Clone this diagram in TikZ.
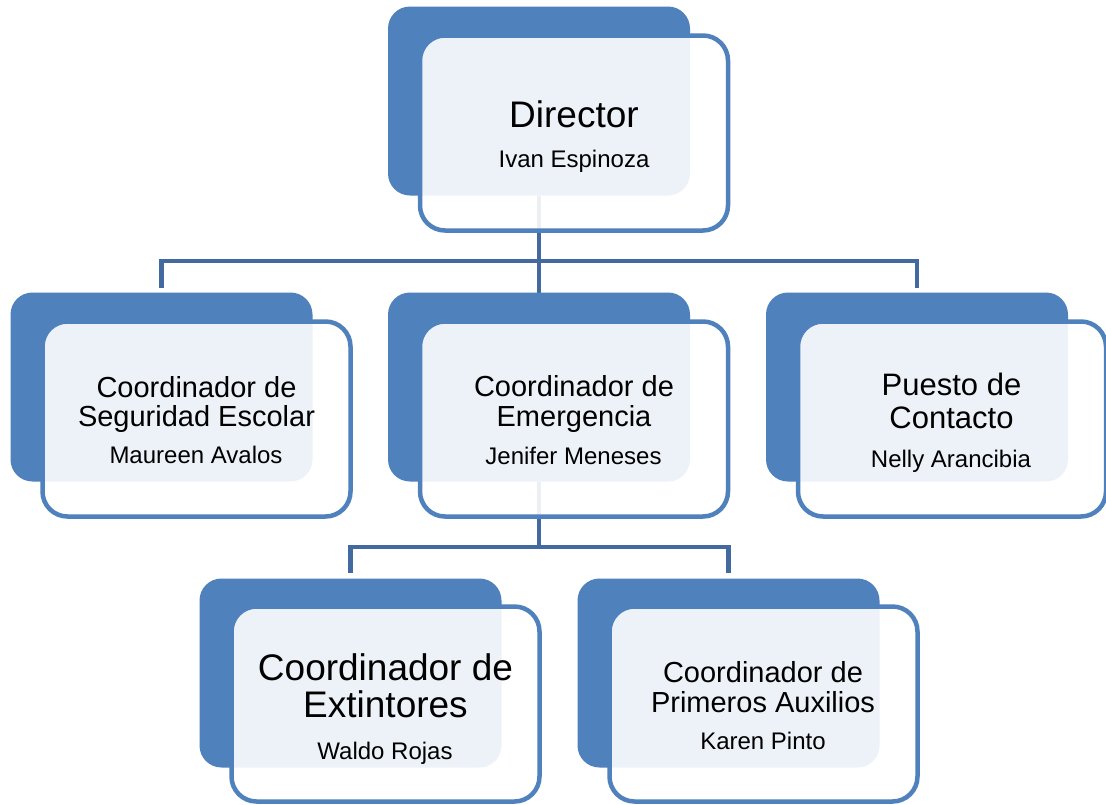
\documentclass[tikz,border=0pt]{standalone}
\usepackage{fontspec}
\setmainfont{Liberation Sans}
\definecolor{boxblue}{RGB}{79,129,189}
\definecolor{connblue}{RGB}{66,106,160}
\begin{document}
\begin{tikzpicture}[x=1pt,y=-1pt,
  backbox/.style={fill=boxblue, draw=none, rounded corners=22pt, minimum width=302pt, minimum height=189pt, inner sep=0pt, outer sep=0pt},
  frontbox/.style={fill=white, fill opacity=0.9, draw=boxblue, draw opacity=1, line width=4.5pt, rounded corners=25pt, minimum width=308pt, minimum height=195pt, inner sep=0pt, outer sep=0pt},
  conn/.style={draw=connblue, line width=4.5pt},
  txt/.style={anchor=base, inner sep=0pt, outer sep=0pt, text=black},
  big/.style={font=\fontsize{37}{40}\selectfont},
  mid/.style={font=\fontsize{29}{32}\selectfont},
  midp/.style={font=\fontsize{31}{34}\selectfont},
  small/.style={font=\fontsize{24}{27}\selectfont}]
\useasboundingbox[fill=white] (0,0) rectangle (1106,804);
\coordinate (bar1) at (0,261);
\coordinate (bar2) at (0,547);
% placeholders for back box positions
\path (539,101) node[backbox, fill=none] (dirB) {}
      (161.5,387) node[backbox, fill=none] (segB) {}
      (539,387) node[backbox, fill=none] (emeB) {}
      (917,387) node[backbox, fill=none] (conB) {}
      (350.5,673) node[backbox, fill=none] (extB) {}
      (728.5,673) node[backbox, fill=none] (priB) {};
% connectors (drawn first, behind boxes)
\draw[conn] (dirB.south) -- (emeB.north);
\draw[conn] ([yshift=5pt]segB.north) |- (bar1 -| conB.north) -- ([yshift=5pt]conB.north);
\draw[conn] (emeB.south) -- (emeB.south |- bar2);
\draw[conn] ([yshift=6pt]extB.north) |- (bar2 -| priB.north) -- ([yshift=6pt]priB.north);
% back boxes
\foreach \n in {dirB,segB,emeB,conB,extB,priB}{
  \node[backbox] at (\n.center) {};
}
% front boxes
\node[frontbox] (dirF) at ([xshift=35pt,yshift=-32pt]dirB.center) {};
\node[frontbox] (segF) at ([xshift=35pt,yshift=-32pt]segB.center) {};
\node[frontbox] (emeF) at ([xshift=35pt,yshift=-32pt]emeB.center) {};
\node[frontbox] (conF) at ([xshift=35pt,yshift=-32pt]conB.center) {};
\node[frontbox] (extF) at ([xshift=35pt,yshift=-31pt]extB.center) {};
\node[frontbox] (priF) at ([xshift=35pt,yshift=-31pt]priB.center) {};
% texts
\node[txt,big] (t1a) at (574,127) {Director};
\node[txt,small] (t1b) at (574,167) {Ivan Espinoza};
\node[txt,mid] (t2a) at (196.5,397) {Coordinador de};
\node[txt,mid] (t2b) at (196.5,426) {Seguridad Escolar};
\node[txt,small] (t2c) at (196,463) {Maureen Avalos};
\node[txt,mid] (t3a) at (574,396) {Coordinador de};
\node[txt,mid] (t3b) at (574,426) {Emergencia};
\node[txt,small] (t3c) at (573.5,464) {Jenifer Meneses};
\node[txt,midp] (t4a) at (951.5,395) {Puesto de};
\node[txt,midp] (t4b) at (951.5,428) {Contacto};
\node[txt,small] (t4c) at (951,467) {Nelly Arancibia};
\node[txt,big] (t5a) at (385.5,680) {Coordinador de};
\node[txt,big] (t5b) at (385.5,717) {Extintores};
\node[txt,small] (t5c) at (385,759) {Waldo Rojas};
\node[txt,mid] (t6a) at (763,682) {Coordinador de};
\node[txt,mid] (t6b) at (763,712) {Primeros Auxilios};
\node[txt,small] (t6c) at (763,749) {Karen Pinto};
\end{tikzpicture}
\end{document}
